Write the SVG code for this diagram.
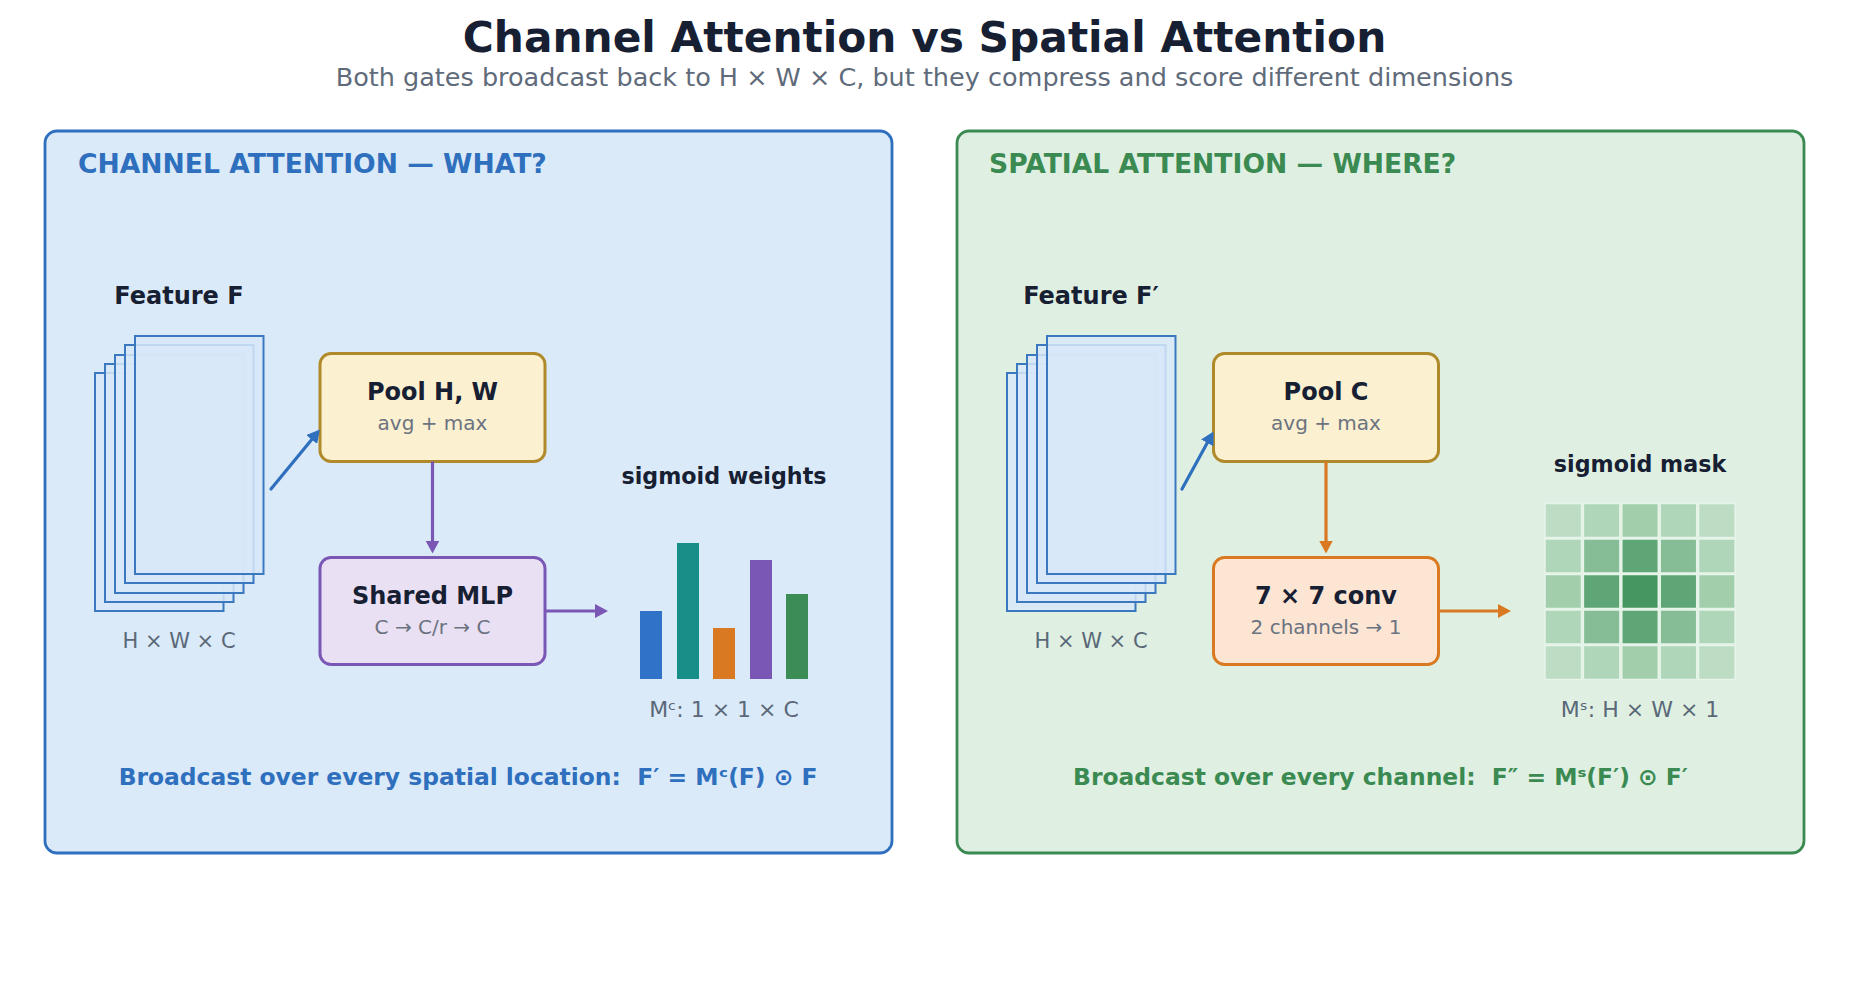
<svg xmlns="http://www.w3.org/2000/svg" width="1849" height="981" viewBox="0 0 1849 981">
<style>
text{font-family:"DejaVu Sans","Liberation Sans",sans-serif}
.title{font-size:42.3px;font-weight:bold;fill:#172033;text-anchor:middle}
.sub{font-size:25.5px;fill:#5f6b7a;text-anchor:middle}
.ptl{font-size:26.6px;font-weight:bold}
.lbl{font-size:24px;font-weight:bold;fill:#172033;text-anchor:middle}
.lbl2{font-size:22.2px;font-weight:bold;fill:#172033;text-anchor:middle}
.dim{font-size:21px;fill:#5a6878;text-anchor:middle}
.dim2{font-size:22px;fill:#5a6878;text-anchor:middle}
.bt{font-size:24px;font-weight:bold;fill:#172033;text-anchor:middle}
.bs{font-size:20px;fill:#6b7280;text-anchor:middle}
.foot{font-size:23.4px;font-weight:bold;text-anchor:middle}
.sheet{fill:#d8e8f8;fill-opacity:0.85;stroke:#3a78c0;stroke-width:2}
.box{stroke-width:3}
.conn{fill:none;stroke-width:3.2}
.cell{stroke:#e6f4e9;stroke-width:1.5}
</style>
<defs>
<marker id="ah-blue" markerUnits="userSpaceOnUse" markerWidth="14" markerHeight="14" refX="3" refY="7" orient="auto"><path d="M0,0 L13,7 L0,14 z" fill="#2e6fbe"/></marker>
<marker id="ah-purple" markerUnits="userSpaceOnUse" markerWidth="14" markerHeight="14" refX="3" refY="7" orient="auto"><path d="M0,0 L13,7 L0,14 z" fill="#7b57b5"/></marker>
<marker id="ah-orange" markerUnits="userSpaceOnUse" markerWidth="14" markerHeight="14" refX="3" refY="7" orient="auto"><path d="M0,0 L13,7 L0,14 z" fill="#d97a22"/></marker>
</defs>
<rect width="1849" height="981" fill="#ffffff"/>
<text class="title" x="924.5" y="52">Channel Attention vs Spatial Attention</text>
<text class="sub" x="924.5" y="86">Both gates broadcast back to H × W × C, but they compress and score different dimensions</text>

<g id="panel-channel">
<rect x="45" y="131" width="847" height="722" rx="12" fill="#dbeaf8" stroke="#2e6fbe" stroke-width="2.8"/>
<text class="ptl" x="78" y="173" fill="#2e6fbe">CHANNEL ATTENTION — WHAT?</text>
</g>
<g id="panel-spatial">
<rect x="957" y="131" width="847" height="722" rx="12" fill="#dff0e2" stroke="#3a8a52" stroke-width="2.8"/>
<text class="ptl" x="989" y="173" fill="#3a8a52">SPATIAL ATTENTION — WHERE?</text>
</g>

<g id="feature-f">
<text class="lbl" x="179" y="304">Feature F</text>
<rect class="sheet" x="95" y="373" width="128.5" height="238"/>
<rect class="sheet" x="105" y="364" width="128.5" height="238"/>
<rect class="sheet" x="115" y="355" width="128.5" height="238"/>
<rect class="sheet" x="125" y="345" width="128.5" height="238"/>
<rect class="sheet" x="135" y="336" width="128.5" height="238"/>
<text class="dim" x="179" y="648">H × W × C</text>
</g>

<g id="pool-hw">
<rect class="box" x="320" y="353.5" width="225" height="108" rx="11" fill="#fbf0cf" stroke="#b08a2a"/>
<text class="bt" x="432.5" y="400">Pool H, W</text>
<text class="bs" x="432.5" y="430">avg + max</text>
</g>

<g id="shared-mlp">
<rect class="box" x="320" y="557.5" width="225" height="107" rx="11" fill="#e9e0f4" stroke="#7b57b5"/>
<text class="bt" x="432.5" y="603.5">Shared MLP</text>
<text class="bs" x="432.5" y="633.5">C → C/r → C</text>
</g>

<g id="sigmoid-weights">
<text class="lbl2" x="724" y="484">sigmoid weights</text>
<rect x="640" y="611" width="22" height="68" fill="#2f72c8"/>
<rect x="677" y="543" width="22" height="136" fill="#178f88"/>
<rect x="713" y="628" width="22" height="51" fill="#d97a22"/>
<rect x="750" y="560" width="22" height="119" fill="#7b57b5"/>
<rect x="786" y="594" width="22" height="85" fill="#3b8d55"/>
<text class="dim2" x="724" y="717">Mᶜ: 1 × 1 × C</text>
</g>

<g id="footer-channel">
<text class="foot" x="468" y="785" fill="#2e6fbe">Broadcast over every spatial location:&#160; F′ = Mᶜ(F) ⊙ F</text>
</g>

<g id="feature-f-prime">
<text class="lbl" x="1091" y="304">Feature F′</text>
<rect class="sheet" x="1007" y="373" width="128.5" height="238"/>
<rect class="sheet" x="1017" y="364" width="128.5" height="238"/>
<rect class="sheet" x="1027" y="355" width="128.5" height="238"/>
<rect class="sheet" x="1037" y="345" width="128.5" height="238"/>
<rect class="sheet" x="1047" y="336" width="128.5" height="238"/>
<text class="dim" x="1091" y="648">H × W × C</text>
</g>

<g id="pool-c">
<rect class="box" x="1213.5" y="353.5" width="225" height="108" rx="11" fill="#fbf0cf" stroke="#b08a2a"/>
<text class="bt" x="1326" y="400">Pool C</text>
<text class="bs" x="1326" y="430">avg + max</text>
</g>

<g id="conv7">
<rect class="box" x="1213.5" y="557.5" width="225" height="107" rx="11" fill="#fce5d3" stroke="#d97a22"/>
<text class="bt" x="1326" y="603.5">7 × 7 conv</text>
<text class="bs" x="1326" y="633.5">2 channels → 1</text>
</g>

<g id="sigmoid-mask">
<text class="lbl2" x="1640" y="472">sigmoid mask</text>
<g>
<rect class="cell" x="1545" y="503.5" width="36.5" height="34" fill="#bcdcc3"/>
<rect class="cell" x="1583.4" y="503.5" width="36.5" height="34" fill="#b0d6b9"/>
<rect class="cell" x="1621.8" y="503.5" width="36.5" height="34" fill="#a2ceac"/>
<rect class="cell" x="1660.2" y="503.5" width="36.5" height="34" fill="#b0d6b9"/>
<rect class="cell" x="1698.6" y="503.5" width="36.5" height="34" fill="#bcdcc3"/>

<rect class="cell" x="1545" y="539" width="36.5" height="34" fill="#b0d6b9"/>
<rect class="cell" x="1583.4" y="539" width="36.5" height="34" fill="#87bd96"/>
<rect class="cell" x="1621.8" y="539" width="36.5" height="34" fill="#5fa676"/>
<rect class="cell" x="1660.2" y="539" width="36.5" height="34" fill="#87bd96"/>
<rect class="cell" x="1698.6" y="539" width="36.5" height="34" fill="#b0d6b9"/>

<rect class="cell" x="1545" y="574.5" width="36.5" height="34" fill="#a2ceac"/>
<rect class="cell" x="1583.4" y="574.5" width="36.5" height="34" fill="#5fa676"/>
<rect class="cell" x="1621.8" y="574.5" width="36.5" height="34" fill="#45965f"/>
<rect class="cell" x="1660.2" y="574.5" width="36.5" height="34" fill="#5fa676"/>
<rect class="cell" x="1698.6" y="574.5" width="36.5" height="34" fill="#a2ceac"/>

<rect class="cell" x="1545" y="610" width="36.5" height="34" fill="#b0d6b9"/>
<rect class="cell" x="1583.4" y="610" width="36.5" height="34" fill="#87bd96"/>
<rect class="cell" x="1621.8" y="610" width="36.5" height="34" fill="#5fa676"/>
<rect class="cell" x="1660.2" y="610" width="36.5" height="34" fill="#87bd96"/>
<rect class="cell" x="1698.6" y="610" width="36.5" height="34" fill="#b0d6b9"/>

<rect class="cell" x="1545" y="645.5" width="36.5" height="34" fill="#bcdcc3"/>
<rect class="cell" x="1583.4" y="645.5" width="36.5" height="34" fill="#b0d6b9"/>
<rect class="cell" x="1621.8" y="645.5" width="36.5" height="34" fill="#a2ceac"/>
<rect class="cell" x="1660.2" y="645.5" width="36.5" height="34" fill="#b0d6b9"/>
<rect class="cell" x="1698.6" y="645.5" width="36.5" height="34" fill="#bcdcc3"/>
</g>
<text class="dim2" x="1640" y="717">Mˢ: H × W × 1</text>
</g>

<g id="footer-spatial">
<text class="foot" x="1380.5" y="785" fill="#3a8a52">Broadcast over every channel:&#160; F″ = Mˢ(F′) ⊙ F′</text>
</g>

<g id="connectors">
<line class="conn" x1="271" y1="489" x2="313.6" y2="437.2" stroke="#2e6fbe" stroke-linecap="round" marker-end="url(#ah-blue)"/>
<line class="conn" x1="432.5" y1="461.5" x2="432.5" y2="543.5" stroke="#7b57b5" marker-end="url(#ah-purple)"/>
<line class="conn" x1="545" y1="611" x2="598" y2="611" stroke="#7b57b5" marker-end="url(#ah-purple)"/>
<line class="conn" x1="1182" y1="489" x2="1208.7" y2="440.3" stroke="#2e6fbe" stroke-linecap="round" marker-end="url(#ah-blue)"/>
<line class="conn" x1="1326" y1="461.5" x2="1326" y2="543.5" stroke="#d97a22" marker-end="url(#ah-orange)"/>
<line class="conn" x1="1438.5" y1="611" x2="1501" y2="611" stroke="#d97a22" marker-end="url(#ah-orange)"/>
</g>
</svg>
